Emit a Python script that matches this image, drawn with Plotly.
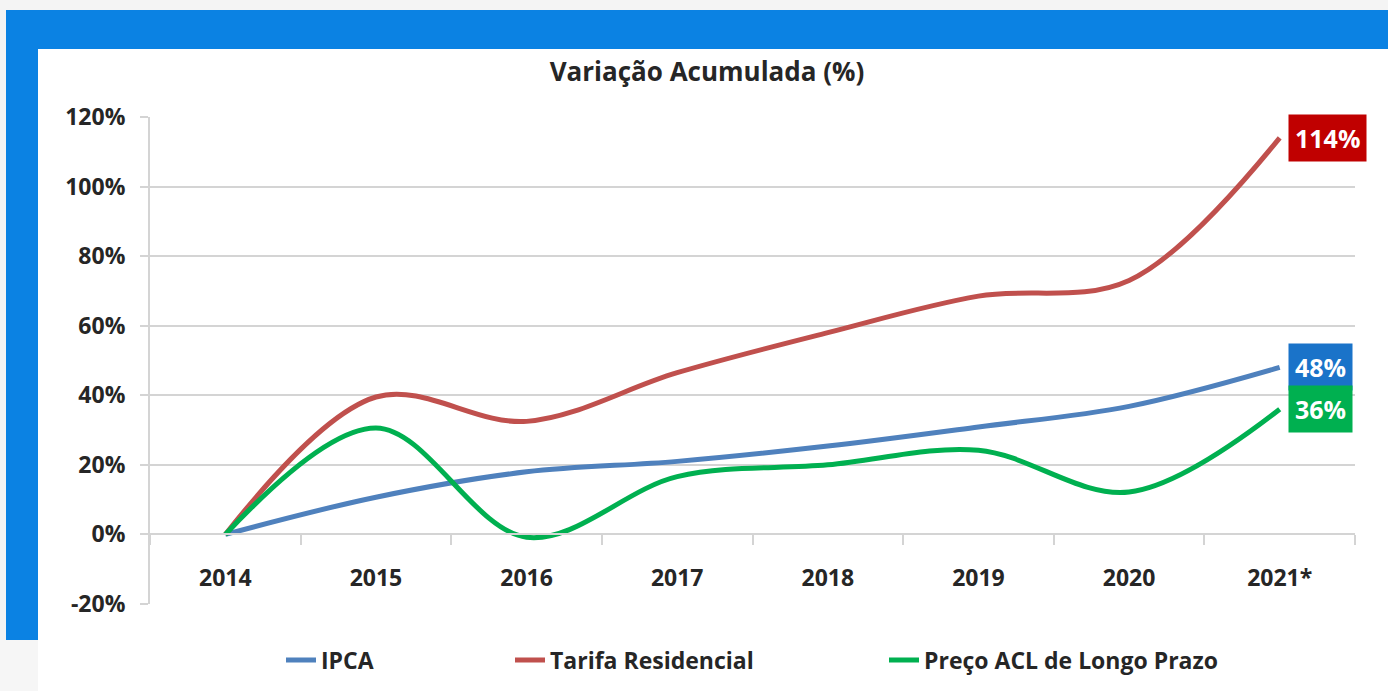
import plotly.graph_objects as go

# ---- data ----
years = ["2014", "2015", "2016", "2017", "2018", "2019", "2020", "2021*"]
ipca = [0, 10.7, 18.0, 21.0, 25.4, 30.9, 36.8, 48]
tarifa = [0, 39.5, 32.5, 46.5, 58.0, 68.5, 73.0, 114]
acl = [0, 30.6, -0.8, 16.6, 20.0, 24.2, 12.2, 36]
y_ticks = [-20, 0, 20, 40, 60, 80, 100, 120]
y_tick_labels = ["-20%", "0%", "20%", "40%", "60%", "80%", "100%", "120%"]

series_names = ["IPCA", "Tarifa Residencial", "Preço ACL de Longo Prazo"]
line_colors = ["#4F81BD", "#C0504D", "#00B050"]
box_colors = ["#1A73C9", "#C00000", "#00B050"]

W, H = 1388, 691
L, R, T, B = 150, 33, 117, 87
PW, PH = W - L - R, H - T - B

def px(x):
    return (x - L) / PW

def py(y):
    return (H - B - y) / PH

FONT = "Open Sans"
DARK = "#262626"
GRID = "#D4D4D4"
FRAME = "#0B82E3"

fig = go.Figure()
legends = ["legend", "legend2", "legend3"]
for name, vals, col, lg in zip(series_names, [ipca, tarifa, acl], line_colors, legends):
    fig.add_trace(go.Scatter(
        x=years, y=vals, name=name, mode="lines",
        line=dict(color=col, width=5, shape="spline", smoothing=1.0),
        legend=lg, hoverinfo="skip",
    ))

# end labels
for vals, bc in zip([ipca, tarifa, acl], box_colors):
    fig.add_annotation(
        x=years[-1], y=vals[-1], xref="x", yref="y",
        text=f"<b>{vals[-1]:.0f}%</b>", showarrow=False,
        xanchor="left", yanchor="middle", xshift=8,
        bgcolor=bc, borderpad=6,
        font=dict(family=FONT, size=25, color="white"),
    )

shapes = []
# light background outside frame
shapes.append(dict(type="rect", xref="paper", yref="paper", x0=px(0), x1=px(W), y0=py(10), y1=py(0),
                   fillcolor="#F4F4F4", line_width=0, layer="below"))
shapes.append(dict(type="rect", xref="paper", yref="paper", x0=px(0), x1=px(6), y0=py(H), y1=py(0),
                   fillcolor="#F4F4F4", line_width=0, layer="below"))
shapes.append(dict(type="rect", xref="paper", yref="paper", x0=px(0), x1=px(38), y0=py(H), y1=py(640),
                   fillcolor="#F6F6F6", line_width=0, layer="below"))
# blue frame
shapes.append(dict(type="rect", xref="paper", yref="paper", x0=px(6), x1=px(W), y0=py(49), y1=py(10),
                   fillcolor=FRAME, line_width=0, layer="below"))
shapes.append(dict(type="rect", xref="paper", yref="paper", x0=px(6), x1=px(38), y0=py(640), y1=py(10),
                   fillcolor=FRAME, line_width=0, layer="below"))

leg_common = dict(orientation="h", xref="container", yref="container", yanchor="middle",
                  bgcolor="rgba(0,0,0,0)", font=dict(family=FONT, size=23, color=DARK, weight="bold"),
                  itemwidth=30)

fig.update_layout(
    width=W, height=H,
    margin=dict(l=L, r=R, t=T, b=B, autoexpand=False),
    paper_bgcolor="white", plot_bgcolor="white",
    title=dict(text="<b>Variação Acumulada (%)</b>", x=707 / W, xref="container", xanchor="center",
               y=1 - 72 / H, yref="container", yanchor="middle",
               font=dict(family=FONT, size=26, color=DARK)),
    xaxis=dict(type="category", range=[-0.5, 7.5], anchor="free", position=py(534.4), automargin=False,
               showline=True, linecolor=GRID, linewidth=2, showgrid=False, zeroline=False,
               ticks="outside", tickson="boundaries", ticklen=10, tickcolor=GRID, tickwidth=2,
               ticklabelstandoff=23,
               tickfont=dict(family=FONT, size=23, color=DARK, weight="bold")),
    yaxis=dict(range=[-20, 120], tickmode="array", tickvals=y_ticks, ticktext=y_tick_labels,
               showline=True, linecolor=GRID, linewidth=2, automargin=False,
               gridcolor=GRID, gridwidth=2, zeroline=False, ticks="outside", ticklen=8,
               tickcolor=GRID, tickwidth=2, ticklabelstandoff=10,
               tickfont=dict(family=FONT, size=23, color=DARK, weight="bold")),
    legend=dict(x=281 / W, y=1 - 660 / H, **leg_common),
    legend2=dict(x=510 / W, y=1 - 660 / H, **leg_common),
    legend3=dict(x=884 / W, y=1 - 660 / H, **leg_common),
    shapes=shapes,
    showlegend=True,
)

fig.write_html("out.html", config={"displayModeBar": False},
               post_script="document.body.style.margin='0';document.body.style.overflow='hidden';")
